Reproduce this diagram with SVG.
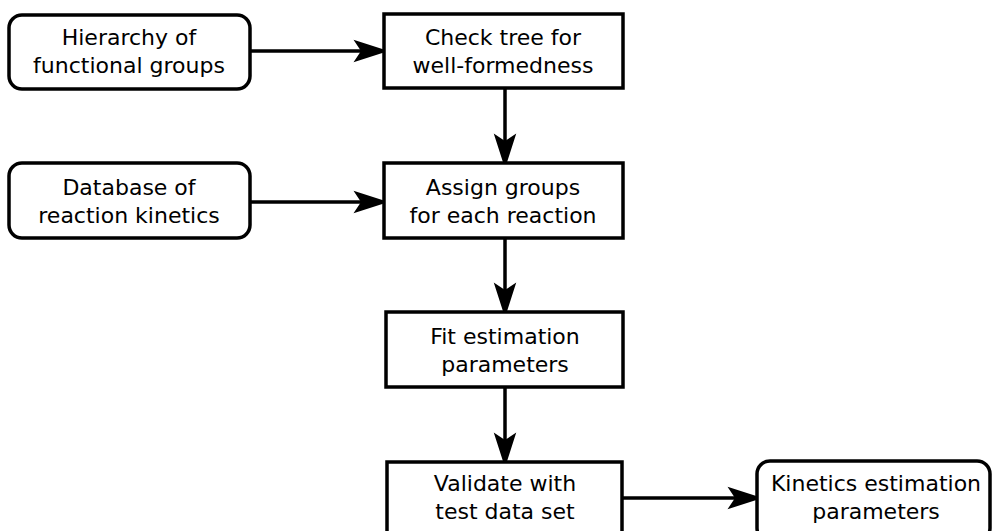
<svg xmlns="http://www.w3.org/2000/svg" width="994" height="531" viewBox="0 0 994 531">
<style>
.box{fill:#fff;stroke:#000;stroke-width:3.5}
.lbl{font-family:"DejaVu Sans",sans-serif;font-size:22px;fill:#000;text-anchor:middle}
.con{stroke:#000;stroke-width:3.5;fill:none;marker-end:url(#ah)}
</style>
<defs>
<marker id="ah" markerUnits="userSpaceOnUse" markerWidth="40" markerHeight="30" viewBox="-8 -10 32 20" refX="0" refY="0" orient="auto" overflow="visible">
<path d="M22,0 L-6,-9 L0,0 L-6,9 Z" fill="#000"/>
</marker>
</defs>
<rect width="994" height="531" fill="#fff"/>
<g id="connectors">
<line class="con" x1="250" y1="51" x2="361" y2="51"/>
<line class="con" x1="250" y1="202" x2="361" y2="202"/>
<line class="con" x1="505" y1="88" x2="505" y2="141"/>
<line class="con" x1="505" y1="238" x2="505" y2="290"/>
<line class="con" x1="505" y1="387" x2="505" y2="440"/>
<line class="con" x1="622" y1="498" x2="735" y2="498"/>
</g>
<g id="hierarchy">
<rect class="box" x="9" y="15" width="241" height="74" rx="13"/>
<text class="lbl" x="129" y="45">Hierarchy of</text>
<text class="lbl" x="129" y="73">functional groups</text>
</g>
<g id="check">
<rect class="box" x="384" y="14" width="239" height="74"/>
<text class="lbl" x="503" y="45">Check tree for</text>
<text class="lbl" x="503" y="73">well-formedness</text>
</g>
<g id="database">
<rect class="box" x="9" y="163" width="241" height="75" rx="13"/>
<text class="lbl" x="129" y="195">Database of</text>
<text class="lbl" x="129" y="223">reaction kinetics</text>
</g>
<g id="assign">
<rect class="box" x="384" y="163" width="239" height="75"/>
<text class="lbl" x="503" y="195">Assign groups</text>
<text class="lbl" x="503" y="223">for each reaction</text>
</g>
<g id="fit">
<rect class="box" x="386" y="312" width="237" height="75"/>
<text class="lbl" x="505" y="344">Fit estimation</text>
<text class="lbl" x="505" y="372">parameters</text>
</g>
<g id="validate">
<rect class="box" x="387" y="462" width="235" height="80"/>
<text class="lbl" x="505" y="491">Validate with</text>
<text class="lbl" x="505" y="519">test data set</text>
</g>
<g id="kinetics">
<rect class="box" x="757" y="461" width="233" height="80" rx="13"/>
<text class="lbl" x="876" y="491">Kinetics estimation</text>
<text class="lbl" x="876" y="519">parameters</text>
</g>
</svg>
